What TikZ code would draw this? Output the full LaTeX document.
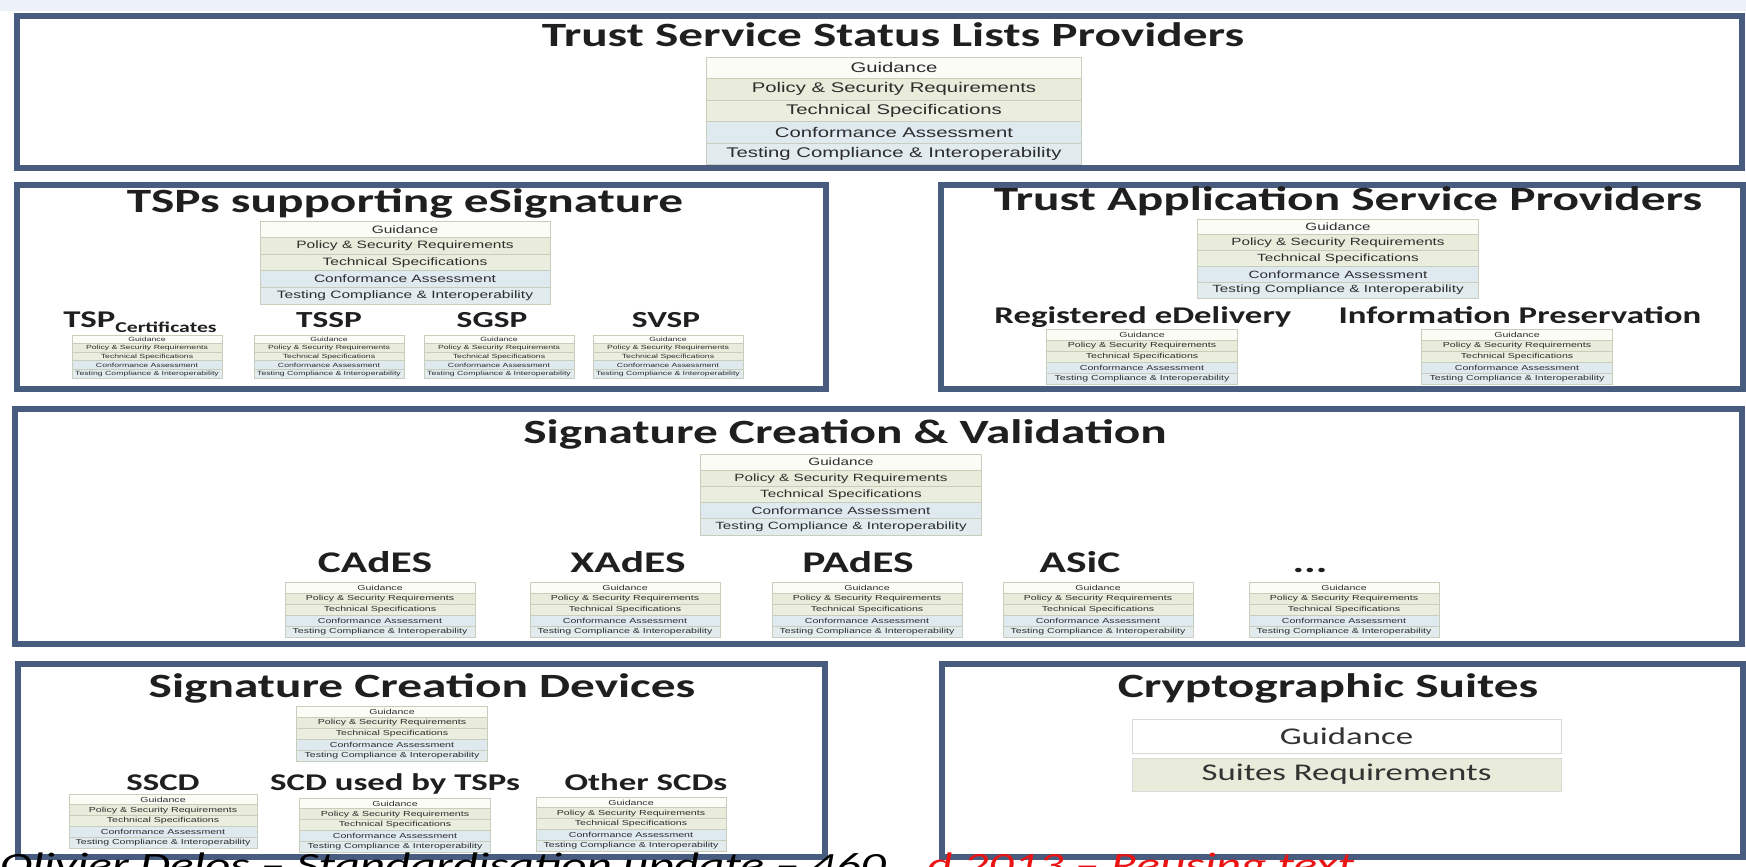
\documentclass[tikz,border=0pt]{standalone}
\usepackage{fontspec}
\usepackage{tikz}
\newfontfamily\ttlfont{Carlito}[FakeStretch=1.45]
\newfontfamily\cellfont{Liberation Sans}[FakeStretch=1.45]
\definecolor{framecol}{RGB}{72,92,128}
\definecolor{row1}{RGB}{251,252,246}
\definecolor{row2}{RGB}{233,236,218}
\definecolor{row3}{RGB}{235,238,222}
\definecolor{row4}{RGB}{222,233,240}
\definecolor{row5}{RGB}{226,236,239}
\definecolor{rowline}{RGB}{200,205,188}
\definecolor{celltext}{RGB}{45,45,45}
\definecolor{notered}{RGB}{235,20,20}
\definecolor{topband}{RGB}{237,242,248}
\tikzset{
  panel/.style={draw=framecol,line width=6pt,fill=white},
  paneltitle/.style={font=\ttlfont\bfseries\fontsize{34}{34}\selectfont,anchor=base,text=black!88},
  sublabel/.style={font=\ttlfont\bfseries\fontsize{#1}{#1}\selectfont,anchor=base,text=black!88},
  stackrow/.style={draw=rowline,line width=0.7pt,inner sep=0pt,text=celltext},
  suiterow/.style={draw=black!15,line width=1pt,inner sep=0pt,minimum width=429pt,minimum height=34pt,
    font=\ttlfont\fontsize{24}{24}\selectfont,text=black!80},
  footnote/.style={anchor=base west,inner sep=0pt,font=\ttlfont\itshape\fontsize{34}{34}\selectfont},
}
% name, centre x, top y, width, row height, font size
\newcommand{\stdstack}[6]{%
  \foreach \lbl [count=\i] in {Guidance,Policy \& Security Requirements,Technical Specifications,Conformance Assessment,Testing Compliance \& Interoperability}
    \node[stackrow,fill=row\i,minimum width=#4pt,minimum height=#5pt,font=\cellfont\fontsize{#6}{#6}\selectfont] (#1-\i) at (#2,{#3+(\i-0.5)*#5}) {\lbl};
}
\begin{document}
\begin{tikzpicture}[x=1pt,y=-1pt,line join=miter]
\useasboundingbox (0,0) rectangle (1746,867);
\clip (0,0) rectangle (1746,867);
\fill[topband] (0,0) rectangle (1746,11);
\draw[panel] (17,16) rectangle (1742,168);
\draw[panel] (17,185) rectangle (826,389);
\draw[panel] (941,185) rectangle (1743,389);
\draw[panel] (15,409) rectangle (1742,644);
\draw[panel] (18,664) rectangle (825,857);
\draw[panel] (942,664) rectangle (1743,857);

\node[paneltitle] (tsslp) at (893,47) {Trust Service Status Lists Providers};
\stdstack{tsslpstack}{894}{57}{375}{21.5}{14}

\node[paneltitle] (tspes) at (405,212) {TSPs supporting eSignature};
\stdstack{tspesstack}{405}{221}{290}{16.6}{10.7}
\node[sublabel=24] (tspc) at (140,327) {TSP{\fontsize{15}{15}\selectfont\raisebox{-5pt}{Certificates}}};
\node[sublabel=23] (tssp) at (329,327) {TSSP};
\node[sublabel=23] (sgsp) at (492,327) {SGSP};
\node[sublabel=23] (svsp) at (666,327) {SVSP};
\stdstack{tspcstack}{147}{335}{150}{8.6}{6}
\stdstack{tsspstack}{329}{335}{150}{8.6}{6}
\stdstack{sgspstack}{499}{335}{150}{8.6}{6}
\stdstack{svspstack}{668}{335}{150}{8.6}{6}

\node[paneltitle] (tasp) at (1348,210) {Trust Application Service Providers};
\stdstack{taspstack}{1338}{219}{281}{15.8}{10.5}
\node[sublabel=24] (redel) at (1143,323) {Registered eDelivery};
\node[sublabel=24] (infop) at (1520,323) {Information Preservation};
\stdstack{redelstack}{1142}{329}{191}{11}{7.3}
\stdstack{infopstack}{1517}{329}{191}{11}{7.3}

\node[paneltitle] (scv) at (845,443) {Signature Creation \& Validation};
\stdstack{scvstack}{841}{454}{281}{16.2}{10.5}
\node[sublabel=30] (cades) at (375,572) {CAdES};
\node[sublabel=30] (xades) at (628,572) {XAdES};
\node[sublabel=30] (pades) at (858,572) {PAdES};
\node[sublabel=30] (asic) at (1080,572) {ASiC};
\node[sublabel=30] (more) at (1310,572) {...};
\stdstack{cadesstack}{380}{582}{190}{11}{7.3}
\stdstack{xadesstack}{625}{582}{190}{11}{7.3}
\stdstack{padesstack}{867}{582}{190}{11}{7.3}
\stdstack{asicstack}{1098}{582}{190}{11}{7.3}
\stdstack{morestack}{1344}{582}{190}{11}{7.3}

\node[paneltitle] (scd) at (422,697) {Signature Creation Devices};
\stdstack{scdstack}{392}{706}{191}{11}{7.3}
\node[sublabel=24] (sscd) at (163,790) {SSCD};
\node[sublabel=24] (scdtsp) at (395,790) {SCD used by TSPs};
\node[sublabel=24] (oscd) at (646,790) {Other SCDs};
\stdstack{sscdstack}{163}{794}{188}{10.8}{7.3}
\stdstack{scdtspstack}{395}{798}{191}{10.8}{7.3}
\stdstack{oscdstack}{631}{797}{190}{10.8}{7.3}

\node[paneltitle] (cs) at (1328,697) {Cryptographic Suites};
\node[suiterow,fill=white] (csguid) at (1346.5,736) {Guidance};
\node[suiterow,fill=row2,minimum height=33pt] (csreq) at (1346.5,774.5) {Suites Requirements};

\node[footnote] (note) at (0,876) {Olivier Delos – Standardisation update – 460};
\node[footnote,text=notered] (notered) at (927,876) {d 2013 – Reusing text};
\end{tikzpicture}
\end{document}
